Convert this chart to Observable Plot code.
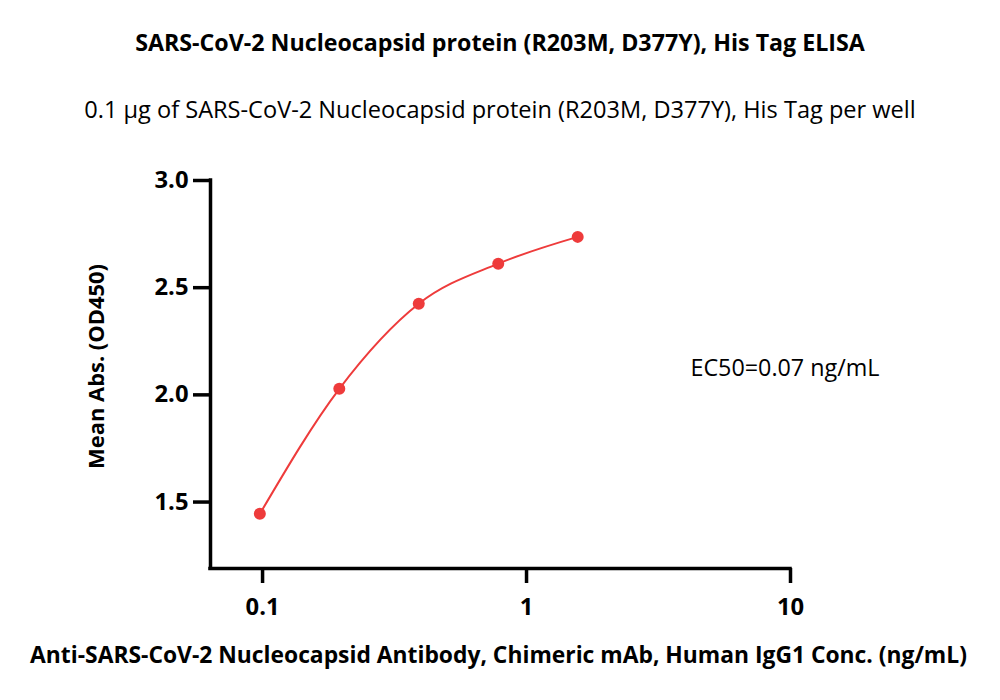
<!DOCTYPE html>
<html><head><meta charset="utf-8">
<script src="https://cdn.jsdelivr.net/npm/d3@7"></script>
<script src="https://cdn.jsdelivr.net/npm/@observablehq/plot@0.6"></script>
<style>
html,body{margin:0;padding:0;background:#fff;}
#wrap{width:1000px;height:700px;position:relative;overflow:hidden;font-family:"Open Sans",sans-serif;}
#head{position:relative;height:140px;}
.t{position:absolute;left:0;width:1000px;text-align:center;white-space:nowrap;color:#000;}
#chart svg{display:block;}
</style></head><body>
<div id="wrap"><div id="head"><div class="t" id="title"></div><div class="t" id="sub"></div></div><div id="chart"></div></div>
<script>
// ---- data ----
const titleText = "SARS-CoV-2 Nucleocapsid protein (R203M, D377Y), His Tag ELISA";
const subtitleText = "0.1 µg of SARS-CoV-2 Nucleocapsid protein (R203M, D377Y), His Tag per well";
const xLabel = "Anti-SARS-CoV-2 Nucleocapsid Antibody, Chimeric mAb, Human IgG1 Conc. (ng/mL)";
const yLabel = "Mean Abs. (OD450)";
const ec50Text = "EC50=0.07 ng/mL";
const concentrations = [0.09766, 0.1953, 0.3906, 0.7813, 1.5625];
const meanAbs = [1.445, 2.028, 2.425, 2.612, 2.737];
const xTicks = [0.1, 1, 10];
const xTickLabels = ["0.1", "1", "10"];
const yTicks = [1.5, 2.0, 2.5, 3.0];
const yTickLabels = ["1.5", "2.0", "2.5", "3.0"];
const xDomain = [0.0635, 10];
const yDomain = [1.19, 3.0];

// ---- helpers ----
const FONT = '"Open Sans", sans-serif';
const ctx = document.createElement("canvas").getContext("2d");
function fit(text, weight, target) {
  ctx.font = `${weight} 100px ${FONT}`;
  return 100 * target / ctx.measureText(text).width;
}
function placeHead(el, text, weight, width, baseline) {
  const fs = fit(text, weight, width);
  el.textContent = text;
  el.style.fontWeight = weight;
  el.style.fontSize = fs + "px";
  el.style.lineHeight = (1.362 * fs) + "px";
  el.style.top = (baseline - 1.069 * fs) + "px";
}
placeHead(document.getElementById("title"), titleText, "bold", 730, 51.7);
placeHead(document.getElementById("sub"), subtitleText, "normal", 832, 118);

const red = "#ee3b3b";
const points = concentrations.map((c, i) => ({c, v: meanAbs[i]}));
const tickFs = fit("3.0", "bold", 34);
const xLabFs = fit(xLabel, "bold", 937);
const yLabFs = fit(yLabel, "bold", 205);
const ecFs = fit(ec50Text, "normal", 189);

const plot = Plot.plot({
  width: 1000, height: 560,
  marginTop: 40, marginBottom: 132, marginLeft: 210, marginRight: 210,
  style: {fontFamily: FONT, color: "#000", background: "#fff", overflow: "visible"},
  x: {type: "log", domain: xDomain},
  y: {domain: yDomain},
  marks: [
    Plot.axisX(xTicks, {tickFormat: d => xTickLabels[xTicks.indexOf(d)], tickSize: 15, tickPadding: 15,
      fontSize: tickFs, fontWeight: "bold", strokeWidth: 3.5, label: null, anchor: "bottom"}),
    Plot.axisY(yTicks, {tickFormat: d => yTickLabels[yTicks.indexOf(d)], tickSize: 17, tickPadding: 5,
      fontSize: tickFs, fontWeight: "bold", strokeWidth: 3.5, label: null, anchor: "left"}),
    Plot.ruleX([xDomain[0]], {y1: yDomain[0], y2: yDomain[1], stroke: "#000", strokeWidth: 3.5, strokeLinecap: "square"}),
    Plot.ruleY([yDomain[0]], {x1: xDomain[0], x2: xDomain[1], stroke: "#000", strokeWidth: 3.5, strokeLinecap: "square"}),
    Plot.line(points, {x: "c", y: "v", curve: "monotone-x", stroke: red, strokeWidth: 2}),
    Plot.dot(points, {x: "c", y: "v", r: 6, fill: red, stroke: "none"}),
    Plot.text([xLabel], {text: d => d, frameAnchor: "bottom", dx: -2, dy: 94.3, lineAnchor: "bottom",
      textAnchor: "middle", fontSize: xLabFs, fontWeight: "bold", fill: "#000"}),
    Plot.text([yLabel], {text: d => d, frameAnchor: "left", rotate: -90, dx: -106.7, dy: -8, lineAnchor: "bottom",
      textAnchor: "middle", fontSize: yLabFs, fontWeight: "bold", fill: "#000"}),
    Plot.text([ec50Text], {text: d => d, frameAnchor: "top-left", dx: 480, dy: 195, lineAnchor: "bottom",
      textAnchor: "start", fontSize: ecFs, fontWeight: "normal", fill: "#000"})
  ]
});
document.getElementById("chart").appendChild(plot);
</script>
</body></html>
